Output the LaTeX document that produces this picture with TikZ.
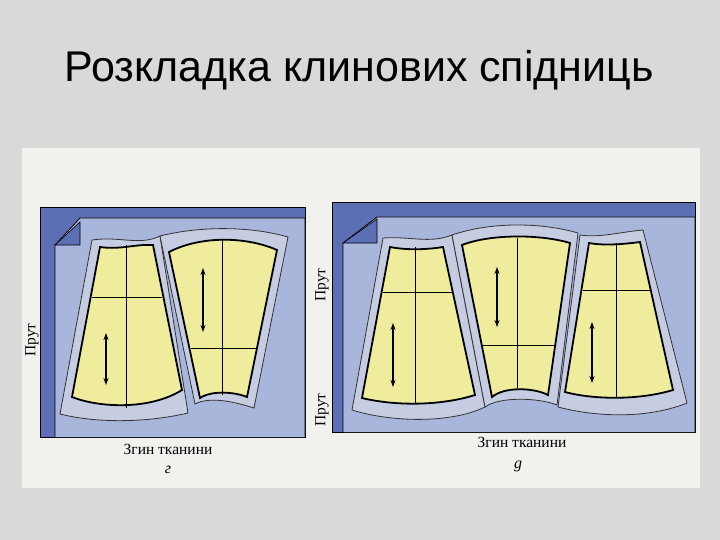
\documentclass[tikz,border=0pt]{standalone}
\usetikzlibrary{arrows.meta}
\usepackage{fontspec}
\setmainfont{Liberation Serif}
\newfontfamily\titlefont{Liberation Sans}
\definecolor{bgc}{HTML}{D9D9D9}
\definecolor{paper}{HTML}{F1F1EE}
\definecolor{fabric}{HTML}{A9B6DC}
\definecolor{band}{HTML}{5C6FB5}
\definecolor{allow}{HTML}{C6CCE2}
\definecolor{piece}{HTML}{EFEC9E}
\tikzset{
 allowst/.style={fill=allow,draw=black!80,line width=0.8pt},
 piecest/.style={fill=piece,draw=black,line width=1.8pt},
 gridst/.style={draw=black,line width=1pt},
 arr/.style={{Stealth[length=7pt,width=5pt]}-{Stealth[length=7pt,width=5pt]},line width=1.3pt},
 panel/.style={fill=fabric,draw=black,line width=1pt},
 lbl/.style={font=\fontsize{15.5}{18}\selectfont},
}
\begin{document}
\begin{tikzpicture}[x=1pt,y=-1pt]
\useasboundingbox (0,0) rectangle (720,540);
\fill[bgc] (0,0) rectangle (720,540);
\fill[paper] (22,148) rectangle (700,488);
\node[font=\titlefont\fontsize{43}{48}\selectfont] (title) at (359,70) {Розкладка клинових спідниць};

% ---------- left panel ----------
\draw[panel,fill=band] (40,208) rectangle (305,437);
\draw[fill=fabric,line width=0.8pt] (55,437) -- (55,245) -- (80,218) -- (305,218) -- (305,437);
\draw[fill=band,line width=0.6pt] (55,245) -- (80,222) -- (80,245) -- cycle;
\draw[allowst] (92,240) .. controls (120,236) and (140,246) .. (160,236) -- (188,413) .. controls (150,422) and (100,424) .. (60,414) -- cycle;
\draw[allowst] (160,236) .. controls (200,226) and (250,226) .. (288,237) -- (254,408) .. controls (235,402) and (210,396) .. (195,404) -- cycle;
\draw[piecest] (100,247) .. controls (120,250) and (135,244) .. (153,245) -- (182,390) .. controls (150,410) and (100,408) .. (72,397) -- cycle;
\draw[gridst] (92,297) -- (162,297) (126,245) -- (126,408);
\draw[arr] (106,333) -- (106,385);
\draw[piecest] (169,252) .. controls (200,236) and (245,236) .. (277,250) -- (247,397) .. controls (235,392) and (212,390) .. (200,398) -- cycle;
\draw[gridst] (191,348) -- (256,348) (222,240) -- (222,395);
\draw[arr] (203,268) -- (203,332);
\node[lbl,rotate=90] (pl) at (32,340) {Прут};
\node[lbl] (zl) at (168,449) {Згин тканини};
\node[font=\fontsize{16}{18}\selectfont\itshape] (gl) at (168,470) {г};

% ---------- right panel ----------
\draw[panel,fill=band] (332,203) rectangle (695,432);
\draw[fill=fabric,line width=0.8pt] (343,432) -- (343,243) -- (377,217) -- (695,217) -- (695,432);
\draw[fill=band,line width=0.6pt] (343,243) -- (377,219) -- (377,243) -- cycle;
\draw[allowst] (383,238) .. controls (410,236) and (430,244) .. (452,235) -- (485,407) .. controls (450,424) and (390,422) .. (352,410) -- cycle;
\draw[allowst] (452,235) .. controls (490,222) and (540,222) .. (578,233) -- (557,405) .. controls (540,398) and (500,396) .. (485,407) -- cycle;
\draw[allowst] (580,235) .. controls (600,238) and (620,232) .. (643,230) -- (687,403) .. controls (650,418) and (600,418) .. (558,407) -- cycle;
\draw[piecest] (390,247) .. controls (405,250) and (425,250) .. (443,247) -- (475,395) .. controls (440,406) and (395,406) .. (362,398) -- cycle;
\draw[gridst] (383,292) -- (452,292) (415,247) -- (415,403);
\draw[arr] (393,323) -- (393,387);
\draw[piecest] (462,245) .. controls (490,234) and (540,234) .. (570,243) -- (548,395) .. controls (535,388) and (505,386) .. (492,397) -- cycle;
\draw[gridst] (482,345) -- (555,345) (517,238) -- (517,388);
\draw[arr] (497,267) -- (497,327);
\draw[piecest] (589,243) .. controls (605,246) and (625,244) .. (640,242) -- (673,390) .. controls (640,400) and (595,400) .. (565,392) -- cycle;
\draw[gridst] (583,290) -- (652,290) (616,243) -- (616,398);
\draw[arr] (592,322) -- (592,383);
\node[lbl,rotate=90] (pr1) at (322,285) {Прут};
\node[lbl,rotate=90] (pr2) at (322,410) {Прут};
\node[lbl] (zr) at (522,442) {Згин тканини};
\node[font=\fontsize{16}{18}\selectfont\itshape] (gr) at (518,466) {g};
\end{tikzpicture}
\end{document}
